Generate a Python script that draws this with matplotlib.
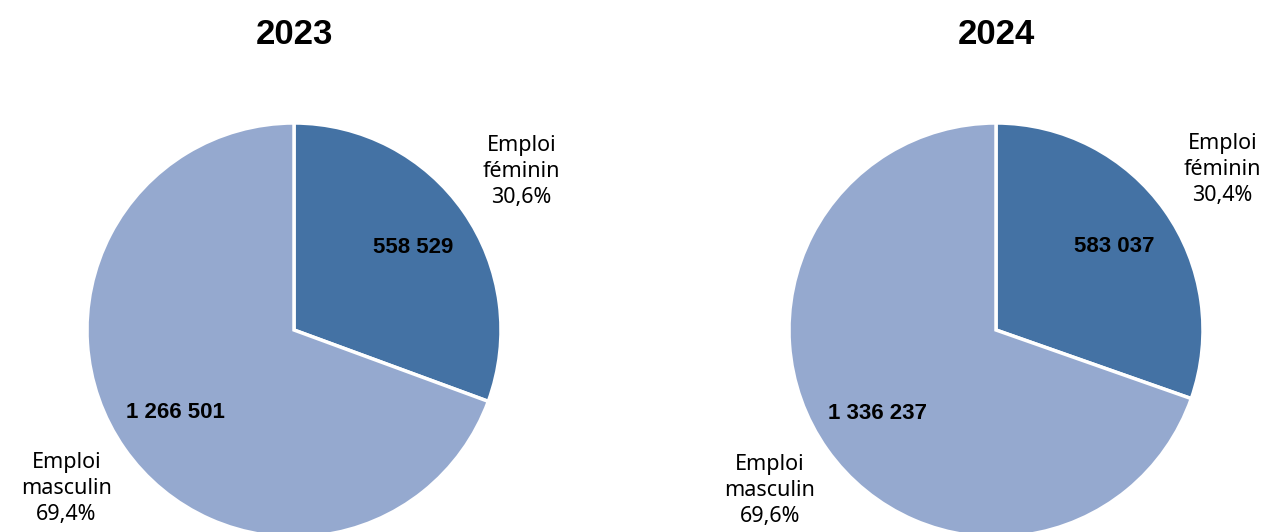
import matplotlib.pyplot as plt
from matplotlib import font_manager

years = ["2023", "2024"]
categories = ["Emploi\nféminin", "Emploi\nmasculin"]
values_2023 = [558529, 1266501]
values_2024 = [583037, 1336237]
colors = ["#4472A4", "#95A9CF"]

# Liberation Sans Bold (not Narrow)
bold_path = None
for f in font_manager.fontManager.ttflist:
    if f.name == "Liberation Sans" and f.weight in (700, "bold") and f.style == "normal":
        bold_path = f.fname
        break
if bold_path:
    bold_fp = lambda size: font_manager.FontProperties(fname=bold_path, size=size)
else:
    bold_fp = lambda size: font_manager.FontProperties(family="DejaVu Sans", weight="bold", size=size)

fig = plt.figure(figsize=(12.64, 5.32), dpi=100)
ax = fig.add_axes([0, 0, 1, 1])


def fmt_num(v):
    return f"{v:,}".replace(",", " ")


centers = [(294, 202), (996, 202)]
for year, vals, (cx, cy) in zip(years, [values_2023, values_2024], centers):
    total = sum(vals)
    labels = [f"{c}\n{v / total * 100:.1f}%".replace(".", ",") for c, v in zip(categories, vals)]
    wedges, texts, autotexts = ax.pie(
        vals, labels=labels, colors=colors, startangle=90, counterclock=False,
        center=(cx, cy), radius=207, labeldistance=1.34, pctdistance=0.70,
        autopct=lambda p, t=total: fmt_num(round(p * t / 100)),
        wedgeprops=dict(edgecolor="white", linewidth=2.5),
        textprops=dict(fontsize=15.5, family="Noto Sans"),
        frame=True,
    )
    for t in texts:
        t.set_ha("center")
        t.set_va("center")
        t.set_linespacing(1.3)
    for t in autotexts:
        t.set_fontproperties(bold_fp(16))
    ax.text(cx, 497, year, ha="center", va="center", fontproperties=bold_fp(25))

ax.set_xlim(0, 1264)
ax.set_ylim(0, 532)
ax.set_aspect("equal")
ax.axis("off")
fig.savefig("out.png", dpi=100)
